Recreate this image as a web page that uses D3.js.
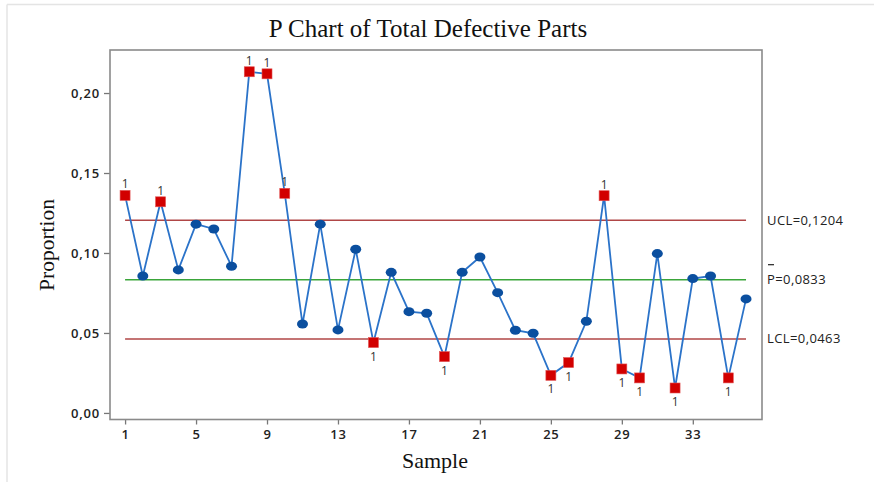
<!DOCTYPE html>
<html><head><meta charset="utf-8">
<script src="https://cdn.jsdelivr.net/npm/d3@7/dist/d3.min.js"></script>
<style>body{margin:0;background:#fff}svg{display:block}</style>
</head><body>
<script>
const samples = d3.range(1, 37);
const proportions = [0.136,0.0856,0.132,0.0894,0.118,0.115,0.0917,0.2133,0.212,0.1373,
  0.0556,0.118,0.0519,0.1023,0.0440,0.0879,0.0633,0.0623,0.0352,0.0879,
  0.0975,0.0752,0.0517,0.0498,0.0235,0.0315,0.0573,0.1358,0.0275,0.0219,
  0.0996,0.0156,0.0840,0.0856,0.0219,0.0713];
const UCL = 0.1204, CL = 0.0833, LCL = 0.0463;
const xTicks = [1,5,9,13,17,21,25,29,33];
const yTicks = [0,0.05,0.10,0.15,0.20];
const fmt = v => v.toFixed(2).replace('.', ',');

const W = 874, H = 482;
const svg = d3.select('body').append('svg').attr('width', W).attr('height', H);
// outer light border
svg.append('line').attr('x1',7).attr('x2',W).attr('y1',4.5).attr('y2',4.5).attr('stroke','#e4e4e4').attr('stroke-width',1.5);
svg.append('line').attr('x1',7).attr('x2',7).attr('y1',4.5).attr('y2',H).attr('stroke','#e4e4e4').attr('stroke-width',1.5);

const L = 110, R = 762, T = 50, B = 419.5;
const x = d3.scaleLinear().domain([0.15, 36.9]).range([L, R]);
const y = d3.scaleLinear().domain([-0.0041, 0.2269]).range([B, T]);

svg.append('text').attr('x', 428).attr('y', 37).attr('text-anchor','middle')
  .attr('font-family','Liberation Serif').attr('font-size', 25).attr('fill','#111')
  .text('P Chart of Total Defective Parts');

// axes
const gx = svg.append('g').attr('transform', `translate(0,${B})`)
  .call(d3.axisBottom(x).tickValues(xTicks).tickSize(5).tickPadding(5).tickFormat(d3.format('d')));
const gy = svg.append('g').attr('transform', `translate(${L},0)`)
  .call(d3.axisLeft(y).tickValues(yTicks).tickSize(6).tickPadding(4).tickFormat(fmt));
[gx, gy].forEach(g => {
  g.select('.domain').remove();
  g.selectAll('.tick line').attr('stroke','#777').attr('stroke-width',1.3);
  g.selectAll('.tick text').attr('font-family','Open Sans').attr('font-size',13)
    .attr('font-weight',600).attr('letter-spacing',0.8).attr('fill','#222');
});

// frame
svg.append('rect').attr('x', L).attr('y', T).attr('width', R - L).attr('height', B - T)
  .attr('fill','none').attr('stroke','#8a8a8a').attr('stroke-width',1.6);

// control lines
const x0 = x(samples[0]), x1 = x(samples[samples.length-1]);
[[UCL,'#b04646'],[LCL,'#b04646'],[CL,'#3aa53a']].forEach(([v,c]) => {
  svg.append('line').attr('x1', x0).attr('x2', x1).attr('y1', y(v)).attr('y2', y(v))
    .attr('stroke', c).attr('stroke-width', 1.5);
});

// data line
const data = samples.map((s,i) => ({s, v: proportions[i]}));
svg.append('path').datum(data)
  .attr('d', d3.line().x(d => x(d.s)).y(d => y(d.v)))
  .attr('fill','none').attr('stroke','#2b73c9').attr('stroke-width',1.8);

const out = d => d.v > UCL || d.v < LCL;
svg.selectAll('ellipse.pt').data(data.filter(d => !out(d))).join('ellipse')
  .attr('cx', d => x(d.s)).attr('cy', d => y(d.v)).attr('rx', 5.5).attr('ry', 4.5)
  .attr('fill','#0b4f9f');
svg.selectAll('rect.pt').data(data.filter(out)).join('rect')
  .attr('x', d => x(d.s) - 5).attr('y', d => y(d.v) - 5).attr('width', 10).attr('height', 10)
  .attr('fill','#d20000').attr('stroke','#e25555').attr('stroke-width',0.6);
svg.selectAll('text.flag').data(data.filter(out)).join('text')
  .attr('x', d => x(d.s)).attr('y', d => d.v > UCL ? y(d.v) - 7 : y(d.v) + 18)
  .attr('text-anchor','middle').attr('font-family','Open Sans').attr('font-size',12)
  .attr('fill','#333').text('1');

// right labels
const lab = (txt, v) => svg.append('text').attr('x', 767).attr('y', y(v) + 4.5)
  .attr('font-family','Open Sans').attr('font-size',13).attr('letter-spacing',0.4)
  .attr('fill','#222').text(txt);
lab('UCL=0,1204', UCL);
lab('P=0,0833', CL);
lab('LCL=0,0463', LCL);
svg.append('line').attr('x1', 768).attr('x2', 774).attr('y1', y(CL) - 15).attr('y2', y(CL) - 15)
  .attr('stroke','#222').attr('stroke-width',1.2);

// axis titles
svg.append('text').attr('x', 435).attr('y', 468).attr('text-anchor','middle')
  .attr('font-family','Liberation Serif').attr('font-size', 22).attr('fill','#111').text('Sample');
svg.append('text').attr('transform', `translate(54,245) rotate(-90)`).attr('text-anchor','middle')
  .attr('font-family','Liberation Serif').attr('font-size', 21.5).attr('fill','#111').text('Proportion');
</script>
</body></html>
